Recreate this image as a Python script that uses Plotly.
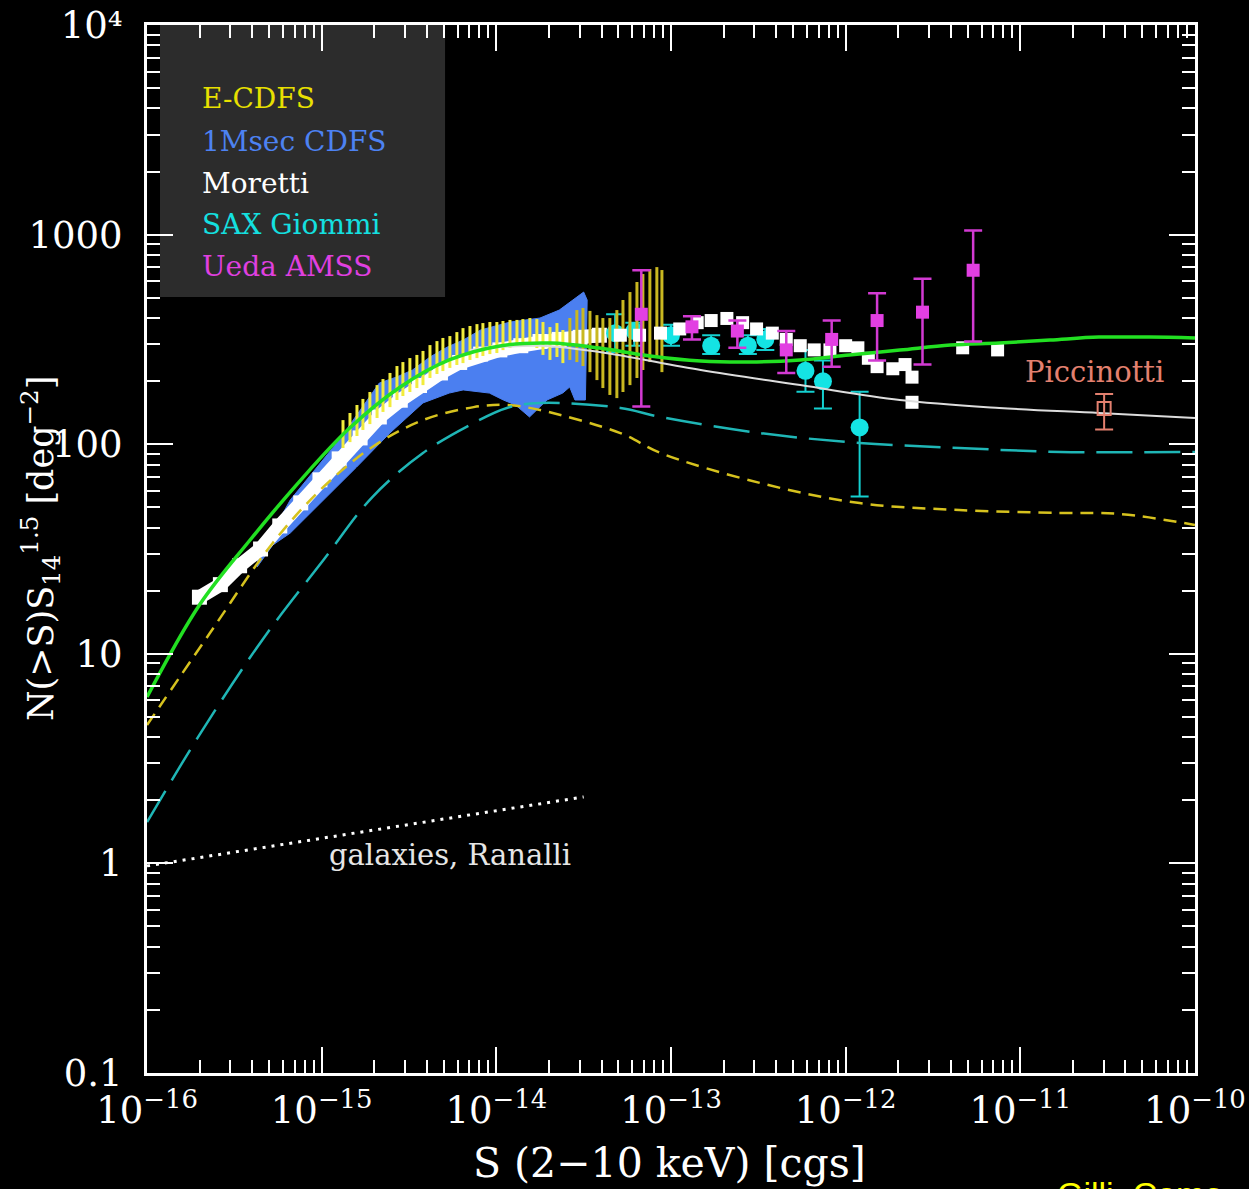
import plotly.graph_objects as go

# ---------------- data (log10 S [cgs], log10 N(>S) S14^1.5 [deg^-2]) ----------------
# total model (green solid)
total_logS = [-16.00, -15.70, -15.41, -15.12, -14.84, -14.55, -14.27, -13.98, -13.69, -13.41, -13.12,
              -12.83, -12.55, -12.26, -11.98, -11.69, -11.40, -11.12, -10.83, -10.55, -10.26, -10.00]
total_logN = [0.794, 1.233, 1.543, 1.829, 2.077, 2.273, 2.402, 2.469, 2.483, 2.459, 2.421,
              2.397, 2.392, 2.402, 2.426, 2.449, 2.473, 2.483, 2.497, 2.511, 2.511, 2.507]

# unabsorbed AGN (yellow short dashes)
unabs_logS = [-16.00, -15.64, -15.28, -14.99, -14.71, -14.42, -14.13, -13.94, -13.75, -13.29, -13.06,
              -12.49, -11.92, -11.35, -10.77, -10.43, -10.00]
unabs_logN = [0.66, 1.099, 1.529, 1.796, 1.987, 2.115, 2.177, 2.187, 2.163, 2.053, 1.958,
              1.815, 1.719, 1.686, 1.672, 1.667, 1.615]

# absorbed AGN (cyan long dashes)
abs_logS = [-16.00, -15.70, -15.34, -14.99, -14.71, -14.42, -14.13, -13.94, -13.75, -13.29, -13.06,
            -12.49, -11.92, -11.35, -10.77, -10.00]
abs_logN = [0.197, 0.613, 1.066, 1.448, 1.748, 1.958, 2.101, 2.173, 2.197, 2.173, 2.130,
            2.053, 2.006, 1.982, 1.963, 1.963]

# Moretti fit (thin white line)
moretti_fit_logS = [-14.15, -13.75, -13.41, -12.83, -12.26, -11.69, -11.12, -10.55, -10.00]
moretti_fit_logN = [2.45, 2.47, 2.44, 2.354, 2.282, 2.211, 2.173, 2.149, 2.125]

# galaxies, Ranalli (dotted)
gal_logS = [-16.0, -13.5]
gal_logN = [-0.012, 0.317]

# 1Msec CDFS band (blue polygon: upper edge left->right, then lower edge right->left)
cdfs_logS = [-15.37, -15.18, -14.90, -14.67, -14.57, -14.48, -14.38, -14.28, -14.19, -14.09, -13.92,
             -13.75, -13.64, -13.55, -13.50, -13.48,
             -13.49, -13.55, -13.58, -13.62, -13.71, -13.81, -13.89, -13.96, -14.04, -14.19, -14.27,
             -14.42, -14.61, -14.80, -14.99, -15.18, -15.28, -15.37]
cdfs_logN = [1.448, 1.734, 2.020, 2.292, 2.321, 2.354, 2.416, 2.464, 2.497, 2.545, 2.583,
             2.602, 2.640, 2.698, 2.726, 2.688,
             2.211, 2.211, 2.273, 2.244, 2.211, 2.130, 2.187, 2.211, 2.244, 2.259, 2.244,
             2.197, 2.053, 1.891, 1.734, 1.576, 1.519, 1.414]

# Moretti data, faint end (continuous band of squares)
moretti_band_logS = [-15.70, -15.58, -15.47, -15.35, -15.24, -15.12, -15.01, -14.90, -14.78, -14.67, -14.55,
                     -14.44, -14.32, -14.21, -14.09, -13.98, -13.86, -13.75, -13.64, -13.52, -13.41]
moretti_band_logN = [1.27, 1.33, 1.42, 1.50, 1.61, 1.72, 1.83, 1.93, 2.03, 2.13, 2.21,
                     2.28, 2.34, 2.39, 2.43, 2.45, 2.47, 2.49, 2.50, 2.51, 2.52]
# Moretti data, bright end (individual squares)
moretti_pts_logS = [-13.29, -13.18, -13.06, -12.95, -12.85, -12.77, -12.68, -12.59, -12.51, -12.42, -12.34,
                    -12.26, -12.18, -12.09, -12.00, -11.93, -11.87, -11.82, -11.73, -11.66, -11.62, -11.62,
                    -11.33, -11.13]
moretti_pts_logN = [2.52, 2.52, 2.53, 2.55, 2.58, 2.59, 2.60, 2.58, 2.55, 2.53, 2.50,
                    2.47, 2.45, 2.45, 2.47, 2.46, 2.41, 2.37, 2.36, 2.38, 2.32, 2.20,
                    2.46, 2.45]

# E-CDFS (yellow vertical error bars: lower / upper)
ecdfs_logS = [-14.878, -14.838, -14.798, -14.764, -14.724, -14.683, -14.649, -14.609, -14.569, -14.535,
              -14.495, -14.455, -14.420, -14.380, -14.340, -14.306, -14.266, -14.226, -14.191, -14.151,
              -14.111, -14.077, -14.037, -13.997, -13.962, -13.922, -13.882, -13.848, -13.808, -13.768,
              -13.733, -13.693, -13.653, -13.619, -13.579, -13.539, -13.504, -13.464, -13.424, -13.390,
              -13.350, -13.310, -13.275, -13.235, -13.195, -13.161, -13.121, -13.081, -13.052]
ecdfs_lo = [1.982, 2.010, 2.039, 2.068, 2.096, 2.125, 2.154, 2.177, 2.211, 2.230,
            2.249, 2.268, 2.282, 2.316, 2.335, 2.349, 2.364, 2.378, 2.387, 2.402,
            2.411, 2.421, 2.430, 2.435, 2.449, 2.459, 2.464, 2.473, 2.483, 2.459,
            2.426, 2.402, 2.416, 2.387, 2.402, 2.392, 2.373, 2.344, 2.306, 2.268,
            2.235, 2.220, 2.249, 2.282, 2.316, 2.354, 2.392, 2.411, 2.344]
ecdfs_hi = [2.115, 2.149, 2.187, 2.216, 2.249, 2.282, 2.311, 2.340, 2.373, 2.392,
            2.411, 2.426, 2.445, 2.473, 2.492, 2.507, 2.516, 2.535, 2.554, 2.564,
            2.573, 2.578, 2.583, 2.583, 2.588, 2.593, 2.593, 2.597, 2.602, 2.597,
            2.583, 2.559, 2.578, 2.545, 2.602, 2.640, 2.650, 2.636, 2.616, 2.602,
            2.602, 2.640, 2.688, 2.726, 2.774, 2.812, 2.836, 2.845, 2.831]
ecdfs_split = 34  # bars lying on the white band look brighter

# SAX Giommi (cyan circles)
sax_logS = [-13.32, -13.21, -13.00, -12.77, -12.56, -12.46, -12.23, -12.13, -11.92]
sax_logN = [2.53, 2.54, 2.52, 2.47, 2.47, 2.50, 2.35, 2.30, 2.08]
sax_hi = [2.62, 2.58, 2.57, 2.52, 2.52, 2.55, 2.45, 2.40, 2.25]
sax_lo = [2.44, 2.47, 2.47, 2.43, 2.43, 2.45, 2.25, 2.17, 1.75]

# Ueda AMSS (magenta squares)
ueda_logS = [-13.17, -12.88, -12.62, -12.34, -12.08, -11.82, -11.56, -11.27]
ueda_logN = [2.62, 2.56, 2.54, 2.45, 2.50, 2.59, 2.63, 2.83]
ueda_hi = [2.83, 2.61, 2.59, 2.54, 2.59, 2.72, 2.79, 3.02]
ueda_lo = [2.18, 2.50, 2.46, 2.34, 2.37, 2.40, 2.38, 2.49]

# Piccinotti (open square)
picc_logS = [-10.52]
picc_logN = [2.17]
picc_hi = [2.24]
picc_lo = [2.07]

# axis ticks
x_tick_exp = [-16, -15, -14, -13, -12, -11, -10]
y_tick_vals = [0.1, 1, 10, 100, 1000, 10000]
y_tick_text = ["0.1", "1", "10", "100", "1000", "10\u2074"]

# ---------------- helpers ----------------
def lin(v):
    return [10 ** a for a in v]

def err_plus(c, hi):
    return [10 ** h - 10 ** m for m, h in zip(c, hi)]

def err_minus(c, lo):
    return [10 ** m - 10 ** l for m, l in zip(c, lo)]

def segments(xs, lo, hi):
    X, Y = [], []
    for x, a, b in zip(xs, lo, hi):
        X += [10 ** x, 10 ** x, None]
        Y += [10 ** a, 10 ** b, None]
    return X, Y

SERIF = "DejaVu Serif"
fig = go.Figure()

# blue band
fig.add_trace(go.Scatter(x=lin(cdfs_logS), y=lin(cdfs_logN), mode="lines", fill="toself",
                         fillcolor="#4b7ff0", line=dict(color="#4b7ff0", width=1), hoverinfo="skip"))
# Moretti band
fig.add_trace(go.Scatter(x=lin(moretti_band_logS), y=lin(moretti_band_logN), mode="lines+markers",
                         line=dict(color="white", width=14),
                         marker=dict(symbol="square", size=15, color="white")))
# SAX points (under E-CDFS bars)
fig.add_trace(go.Scatter(x=lin(sax_logS), y=lin(sax_logN), mode="markers",
                         marker=dict(symbol="circle", size=18, color="#14e4e4"),
                         error_y=dict(type="data", symmetric=False,
                                      array=err_plus(sax_logN, sax_hi),
                                      arrayminus=err_minus(sax_logN, sax_lo),
                                      color="#14d0d0", thickness=2, width=9)))
# E-CDFS bars
bx, by = segments(ecdfs_logS[:ecdfs_split], ecdfs_lo[:ecdfs_split], ecdfs_hi[:ecdfs_split])
fig.add_trace(go.Scatter(x=bx, y=by, mode="lines", line=dict(color="#f2ec3c", width=3), hoverinfo="skip"))
bx, by = segments(ecdfs_logS[ecdfs_split:], ecdfs_lo[ecdfs_split:], ecdfs_hi[ecdfs_split:])
fig.add_trace(go.Scatter(x=bx, y=by, mode="lines", line=dict(color="#c9b820", width=3), hoverinfo="skip"))

# Moretti bright squares
fig.add_trace(go.Scatter(x=lin(moretti_pts_logS), y=lin(moretti_pts_logN), mode="markers",
                         marker=dict(symbol="square", size=13, color="white")))

# model curves
fig.add_trace(go.Scatter(x=lin(unabs_logS), y=lin(unabs_logN), mode="lines", line_shape="spline",
                         line=dict(color="#d6c21e", width=2.5, dash="13px,8px")))
fig.add_trace(go.Scatter(x=lin(abs_logS), y=lin(abs_logN), mode="lines", line_shape="spline",
                         line=dict(color="#1fb6b6", width=2.5, dash="36px,12px")))
fig.add_trace(go.Scatter(x=lin(moretti_fit_logS), y=lin(moretti_fit_logN), mode="lines", line_shape="spline",
                         line=dict(color="#dddddd", width=2)))
fig.add_trace(go.Scatter(x=lin(gal_logS), y=lin(gal_logN), mode="lines",
                         line=dict(color="white", width=3, dash="3px,6px")))
fig.add_trace(go.Scatter(x=lin(total_logS), y=lin(total_logN), mode="lines", line_shape="spline",
                         line=dict(color="#22e022", width=3.5)))

# Ueda
fig.add_trace(go.Scatter(x=lin(ueda_logS), y=lin(ueda_logN), mode="markers",
                         marker=dict(symbol="square", size=13, color="#e23fe2"),
                         error_y=dict(type="data", symmetric=False,
                                      array=err_plus(ueda_logN, ueda_hi),
                                      arrayminus=err_minus(ueda_logN, ueda_lo),
                                      color="#d23ad2", thickness=2.5, width=9)))
# Piccinotti
fig.add_trace(go.Scatter(x=lin(picc_logS), y=lin(picc_logN), mode="markers",
                         marker=dict(symbol="square-open", size=13, color="#e3806f", line=dict(width=2)),
                         error_y=dict(type="data", symmetric=False,
                                      array=err_plus(picc_logN, picc_hi),
                                      arrayminus=err_minus(picc_logN, picc_lo),
                                      color="#e3806f", thickness=2, width=9)))

minor_x = [m * 10.0 ** e for e in range(-16, -10) for m in range(2, 10)]
minor_y = [m * 10.0 ** e for e in range(-1, 4) for m in range(2, 10)]

axis_common = dict(type="log", showgrid=False, zeroline=False, showline=True, linecolor="white",
                   linewidth=3, mirror="ticks", ticks="inside", ticklen=26, tickwidth=2,
                   tickcolor="white", tickfont=dict(family=SERIF, size=37, color="white"),
                   ticklabeloverflow="allow", automargin=False)

fig.update_xaxes(range=[-16.0002, -9.9998], tickvals=[10.0 ** e for e in x_tick_exp],
                 ticktext=["10<sup>\u2212%d</sup>" % (-e) for e in x_tick_exp],
                 minor=dict(tickvals=minor_x, ticks="inside", ticklen=13, tickwidth=2, tickcolor="white"),
                 ticklabelstandoff=3, **axis_common)
fig.update_yaxes(range=[-1.0002, 4.0002], tickvals=y_tick_vals, ticktext=y_tick_text,
                 minor=dict(tickvals=minor_y, ticks="inside", ticklen=13, tickwidth=2, tickcolor="white"),
                 ticklabelstandoff=14, **axis_common)

# legend box
fig.add_shape(type="rect", xref="paper", yref="paper", x0=0.0124, x1=0.2844, y0=0.7405, y1=1.0,
              fillcolor="#2c2c2c", line=dict(width=0), layer="below")

legend_items = [("E-CDFS", "#e8e000"), ("1Msec CDFS", "#4d82f2"), ("Moretti", "white"),
                ("SAX Giommi", "#14e0e0"), ("Ueda AMSS", "#e040e0")]
legend_y = [0.9294, 0.8893, 0.8492, 0.8092, 0.7691]
for (txt, col), yy in zip(legend_items, legend_y):
    fig.add_annotation(text=txt, xref="paper", yref="paper", x=0.0506, y=yy, xanchor="left",
                       yanchor="middle", showarrow=False, font=dict(family=SERIF, size=28, color=col))

fig.add_annotation(text="galaxies, Ranalli", xref="x", yref="y", x=-14.266, y=0.04, xanchor="center",
                   yanchor="middle", showarrow=False, font=dict(family=SERIF, size=29, color="#e6e6e6"))
fig.add_annotation(text="Piccinotti", xref="x", yref="y", x=-10.574, y=2.344, xanchor="center",
                   yanchor="middle", showarrow=False, font=dict(family=SERIF, size=29, color="#e3806f"))

fig.add_annotation(text="S (2\u221210 keV) [cgs]", xref="paper", yref="paper", x=0.499, y=-0.086,
                   xanchor="center", yanchor="middle", showarrow=False,
                   font=dict(family=SERIF, size=41, color="white"))
fig.add_annotation(text="N(>S)S<sub>14</sub><sup>1.5</sup> [deg<sup>\u22122</sup>]", xref="paper",
                   yref="paper", x=-0.102, y=0.5, xanchor="center", yanchor="middle", textangle=-90,
                   showarrow=False, font=dict(family=SERIF, size=35, color="white"))
# credit line, cut by the lower edge of the picture as in the original
fig.add_annotation(text="Gilli, Coma", xref="paper", yref="paper", x=0.866,
                   y=-0.0955, xanchor="left", yanchor="top", showarrow=False,
                   font=dict(family="Liberation Sans", size=34, color="#ffff00"))

fig.update_layout(width=1249, height=1189, margin=dict(l=147, r=54, t=25, b=116, pad=0),
                  paper_bgcolor="black", plot_bgcolor="black", showlegend=False)

fig.write_html("out.html", config={"displayModeBar": False},
               post_script="document.body.style.margin='0px';document.body.style.background='black';"
                           "document.documentElement.style.overflow='hidden';")
